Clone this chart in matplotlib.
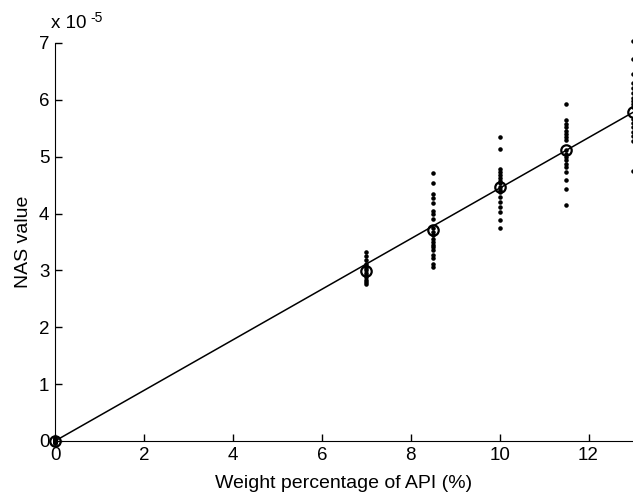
import numpy as np
import matplotlib.pyplot as plt

plt.rcParams['font.family'] = ['Liberation Sans', 'DejaVu Sans']

# measured NAS values (x 1e-5) for each API weight percentage
x_levels = [0, 7, 8.5, 10, 11.5, 13]
nas_0 = [0.06, 0.04, 0.02, 0.0, -0.02, -0.04, 0.01, -0.01, 0.03, -0.03]
nas_7 = [3.32, 3.25, 3.18, 3.12, 3.08, 3.04, 3.0, 2.96, 2.92, 2.88, 2.84, 2.8, 2.76]
nas_85 = [4.72, 4.54, 4.35, 4.28, 4.19, 4.05, 4.0, 3.91, 3.75, 3.68, 3.62, 3.56,
          3.5, 3.45, 3.41, 3.36, 3.27, 3.21, 3.12, 3.06]
nas_10 = [5.35, 5.14, 4.79, 4.73, 4.67, 4.62, 4.58, 4.53, 4.47, 4.42, 4.38, 4.29,
          4.21, 4.12, 4.03, 3.88, 3.74]
nas_115 = [5.92, 5.64, 5.58, 5.52, 5.46, 5.4, 5.35, 5.29, 5.11, 5.05, 5.0, 4.94,
           4.88, 4.82, 4.73, 4.59, 4.44, 4.15]
nas_13 = [7.04, 6.72, 6.46, 6.3, 6.2, 6.12, 6.04, 5.98, 5.92, 5.87, 5.67, 5.6,
          5.52, 5.44, 5.36, 5.28, 4.75]
mean_nas = [0.0, 2.99, 3.71, 4.47, 5.12, 5.78]

# fitted line
fit_x = [0, 13]
fit_y = [0, 5.78]

groups = [nas_0, nas_7, nas_85, nas_10, nas_115, nas_13]

fig = plt.figure(figsize=(6.33, 4.94), dpi=100)
ax = fig.add_axes([0.0869, 0.1073, 0.9131, 0.8057])

for xv, vals in zip(x_levels, groups):
    ax.plot([xv] * len(vals), vals, 'k.', markersize=4.5, clip_on=False)

ax.plot(fit_x, fit_y, 'k-', linewidth=1.1, clip_on=False)
ax.plot(x_levels, mean_nas, 'o', markerfacecolor='none', markeredgecolor='k',
        markersize=7.5, markeredgewidth=1.6, clip_on=False)

ax.set_xlim(0, 13)
ax.set_ylim(0, 7)
ax.set_xticks([0, 2, 4, 6, 8, 10, 12])
ax.set_yticks(range(8))
ax.spines['top'].set_visible(False)
ax.spines['right'].set_visible(False)
ax.tick_params(direction='in', length=5, width=1, labelsize=13.5, pad=4)
ax.set_xlabel('Weight percentage of API (%)', fontsize=14, labelpad=8)
ax.set_ylabel('NAS value', fontsize=14, labelpad=5)

# MATLAB-style exponent label
fig.text(0.0806, 0.943, 'x 10', fontsize=13.5, ha='left', va='baseline')
fig.text(0.142, 0.956, '-5', fontsize=10, ha='left', va='baseline')

fig.savefig('out.png', dpi=100)
